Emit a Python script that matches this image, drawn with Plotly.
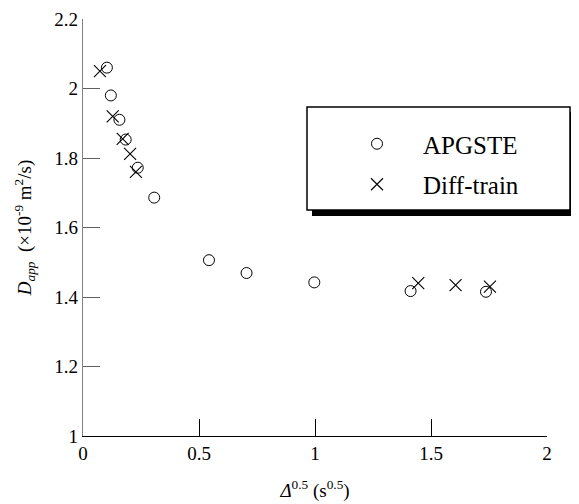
import plotly.graph_objects as go

# Data
apgste_x = [0.103, 0.120, 0.157, 0.184, 0.236, 0.307, 0.543, 0.705, 0.997, 1.412, 1.737]
apgste_y = [2.060, 1.980, 1.910, 1.853, 1.772, 1.686, 1.506, 1.469, 1.442, 1.417, 1.415]
diff_x = [0.073, 0.128, 0.171, 0.203, 0.228, 1.445, 1.606, 1.754]
diff_y = [2.050, 1.920, 1.855, 1.812, 1.760, 1.440, 1.434, 1.430]

x_ticks = [0, 0.5, 1, 1.5, 2]
x_tick_labels = ["0", "0.5", "1", "1.5", "2"]
y_ticks = [1, 1.2, 1.4, 1.6, 1.8, 2, 2.2]
y_tick_labels = ["1", "1.2", "1.4", "1.6", "1.8", "2", "2.2"]

FONT = "Liberation Serif"

fig = go.Figure()
fig.add_trace(go.Scatter(
    x=apgste_x, y=apgste_y, mode="markers", name="APGSTE", legendgroup="a",
    marker=dict(symbol="circle-open", size=11, color="black", line=dict(width=1, color="black")),
))
fig.add_trace(go.Scatter(
    x=diff_x, y=diff_y, mode="markers", name="Diff-train", legendgroup="b",
    marker=dict(symbol="x-thin-open", size=12, color="black", line=dict(width=1.1, color="black")),
))

# page has an 8px body margin; work in page pixels and convert
OFF = 8
W, H = 571, 496
L, T = 83 - OFF, 19 - OFF
PW, PH = 464, 417
R, B = W - L - PW, H - T - PH

def px_x(p):
    return (p - OFF - L) / PW

def px_y(p):
    return 1 - (p - OFF - T) / PH

fig.update_layout(
    width=W, height=H,
    margin=dict(l=L, r=R, t=T, b=B, autoexpand=False),
    paper_bgcolor="white", plot_bgcolor="white",
    font=dict(family=FONT, size=19, color="black"),
    showlegend=True,
    legend=dict(
        x=px_x(331), y=px_y(121),
        xanchor="left", yanchor="top",
        bgcolor="rgba(0,0,0,0)", borderwidth=0,
        font=dict(family=FONT, size=25, color="black"),
        itemwidth=82, traceorder="grouped", tracegroupgap=5,
    ),
    xaxis=dict(
        range=[0, 2], tickvals=x_ticks, ticktext=x_tick_labels, automargin=False,
        showgrid=False, zeroline=False, showline=True, linecolor="black", linewidth=1,
        ticks="inside", ticklen=17, tickcolor="black", tickwidth=1,
        title=dict(text="<i>Δ</i><sup>0.5</sup> (s<sup>0.5</sup>)", font=dict(family=FONT, size=19), standoff=20),
        tickfont=dict(family=FONT, size=19),
    ),
    yaxis=dict(
        range=[1, 2.2], tickvals=y_ticks, ticktext=y_tick_labels, automargin=False,
        showgrid=False, zeroline=False, showline=True, linecolor="#808080", linewidth=1.3,
        ticks="inside", ticklen=17, tickcolor="#606060", tickwidth=1,
        title=dict(text="<i>D</i><sub><i>app</i></sub>  (×10<sup>-9</sup> m<sup>2</sup>/s)", font=dict(family=FONT, size=19), standoff=17),
        tickfont=dict(family=FONT, size=19),
    ),
)

# legend box with drop shadow (page pixel positions)
bx0, bx1, by0, by1 = 307, 570, 107, 210
fig.add_shape(type="rect", xref="paper", yref="paper",
              x0=px_x(bx0 + 5), x1=px_x(bx1 + 5), y0=px_y(by1 + 6), y1=px_y(by0 + 5),
              fillcolor="black", line=dict(width=0), layer="below")
fig.add_shape(type="rect", xref="paper", yref="paper",
              x0=px_x(bx0), x1=px_x(bx1), y0=px_y(by1), y1=px_y(by0),
              fillcolor="white", line=dict(width=1.5, color="black"), layer="below")

fig.write_html("out.html")
